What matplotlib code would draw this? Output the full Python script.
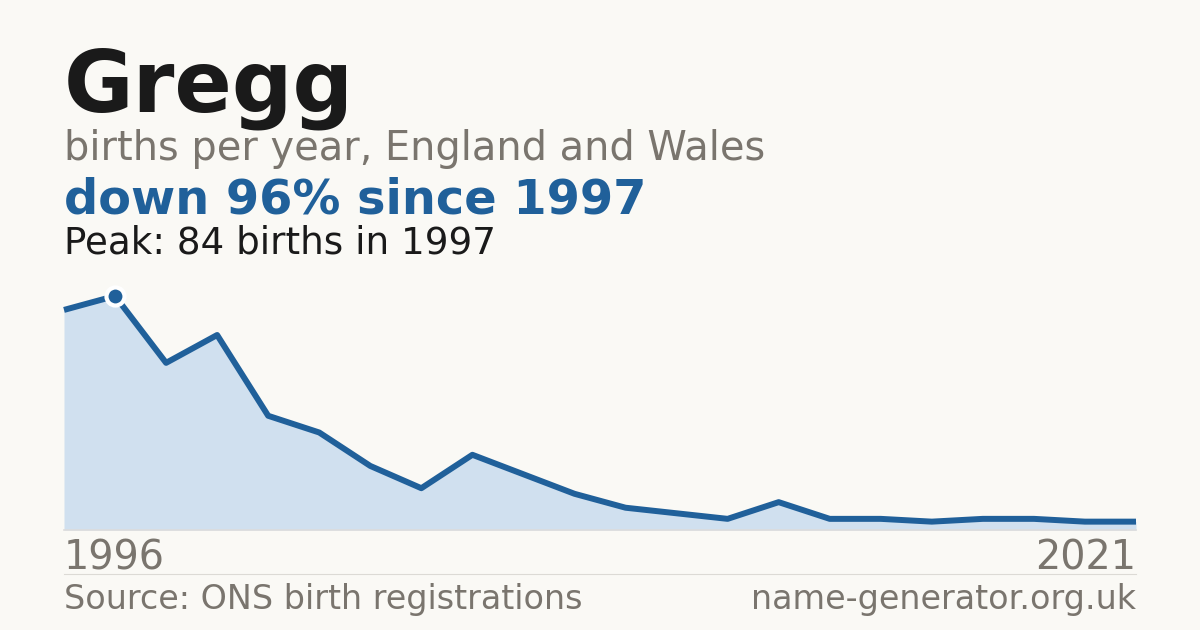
import matplotlib
matplotlib.use("Agg")
import matplotlib.pyplot as plt
from matplotlib.lines import Line2D

# births per year (years with data only)
years = [1996, 1997, 1998, 1999, 2000, 2001, 2002, 2003, 2004, 2005, 2006,
         2007, 2008, 2009, 2010, 2011, 2012, 2013, 2014, 2015, 2016, 2021]
births = [79, 84, 60, 70, 41, 35, 23, 15, 27, 20, 13,
          8, 6, 4, 10, 4, 4, 3, 4, 4, 3, 3]

name = "Gregg"
subtitle = "births per year, England and Wales"
headline = "down 96% since 1997"
peak_note = "Peak: 84 births in 1997"
source = "Source: ONS birth registrations"
site = "name-generator.org.uk"

BG = "#faf9f5"
DARK = "#1a1a1a"
GREY = "#7a756e"
BLUE = "#20609a"
FILL = "#d0e0ef"

W, H = 1200, 630
fig = plt.figure(figsize=(W / 100, H / 100), dpi=100, facecolor=BG)


def px(x, y):
    return x / W, 1 - y / H


def txt(x, y, s, size, color, weight="normal", ha="left"):
    fx, fy = px(x, y)
    fig.text(fx, fy, s, fontsize=size, color=color, fontweight=weight,
             ha=ha, va="baseline", family="DejaVu Sans")


txt(64, 112, name, 61, DARK, "bold")
txt(64, 160, subtitle, 28.7, GREY)
txt(64, 214, headline, 34.5, BLUE, "bold")
txt(64, 254, peak_note, 26.8, DARK)

# plot area: x 64..1136, y 296..530 px
ax = fig.add_axes([64 / W, (H - 530) / H, 1072 / W, 234 / H])
ax.set_facecolor("none")
xs = list(range(len(years)))
ax.fill_between(xs, births, 0, color=FILL, lw=0)
ax.plot(xs, births, color=BLUE, lw=4.3, solid_joinstyle="round",
        solid_capstyle="butt", clip_on=False)
pk = births.index(max(births))
ax.plot(xs[pk], births[pk], "o", ms=13, color=BLUE, mec="white", mew=3,
        clip_on=False, zorder=5)
ax.set_xlim(0, len(years) - 1)
ax.set_ylim(0, max(births))
ax.axis("off")

# baseline and separator
fig.add_artist(Line2D([64 / W, 1136 / W], [1 - 530 / H] * 2, color="#dcdcdc", lw=1.2))
fig.add_artist(Line2D([64 / W, 1136 / W], [1 - 574 / H] * 2, color="#dcdad5", lw=0.8))

txt(64, 569, str(years[0]), 28.6, GREY)
txt(1136, 569, str(years[-1]), 28.6, GREY, ha="right")
txt(64, 609, source, 24.0, GREY)
txt(1136, 609, site, 24.0, GREY, ha="right")

fig.savefig("out.png", dpi=100, facecolor=BG)
